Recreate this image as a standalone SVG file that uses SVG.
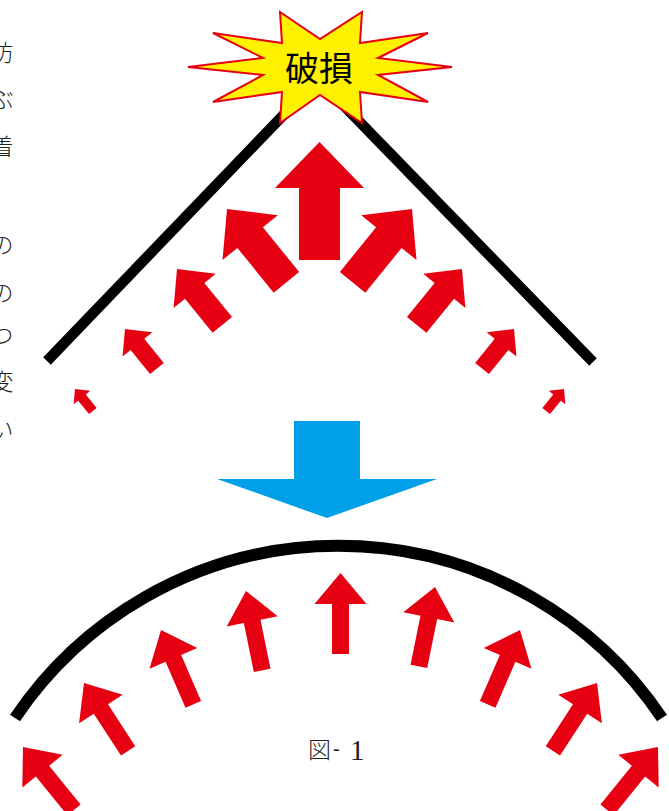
<svg xmlns="http://www.w3.org/2000/svg" xmlns:xlink="http://www.w3.org/1999/xlink" width="669" height="811" viewBox="0 0 669 811">
<style>
.red{fill:#E60012}
.line{fill:none;stroke:#000;stroke-width:10.5;stroke-linejoin:miter}
.arc{fill:none;stroke:#000;stroke-width:12}
.burst{fill:#FFF100;stroke:#E60012;stroke-width:2}
.cjk{font-family:"Noto Sans CJK JP",sans-serif}
.margin{font-family:"Noto Sans CJK JP",sans-serif;font-size:23px;fill:#222;font-weight:300;text-anchor:middle}
</style>
<defs>
<path id="bigArrow" d="M0,0 L44.5,46 L20.5,46 L20.5,118 L-20.5,118 L-20.5,46 L-44.5,46 Z"/>
<path id="thinArrow" d="M0,0 L26,31 L8.5,31 L8.5,81 L-8.5,81 L-8.5,31 L-26,31 Z"/>
</defs>

<g id="margin-text" class="margin">
<text x="2" y="61">防</text>
<text x="2" y="108">ぶ</text>
<text x="2" y="155">着</text>
<text x="2" y="253">の</text>
<text x="2" y="301">の</text>
<text x="2" y="344">つ</text>
<text x="2" y="390">変</text>
<text x="2" y="438">い</text>
</g>

<g id="roof">
<polyline class="line" points="47,361 318,79 593,362"/>
</g>

<g id="burst">
<polygon class="burst" points="280,12 320,39 362,12 360,43 428,33 378,58 452,67 378,75 428,102 360,92 362,123 320,95 280,123 282,92 213,102 263,75 188,67 263,58 213,33 282,43"/>
<text class="cjk" x="319" y="81" font-size="34" text-anchor="middle" fill="#000">破損</text>
</g>

<g id="connectors">
<g id="arrows-top" class="red">
<use xlink:href="#bigArrow" transform="translate(319.5,142)"/>
<use xlink:href="#bigArrow" transform="translate(227,209) rotate(-39) scale(0.8)"/>
<use xlink:href="#bigArrow" transform="translate(412,209) rotate(39) scale(0.8)"/>
<use xlink:href="#bigArrow" transform="translate(177,269) rotate(-39) scale(0.61)"/>
<use xlink:href="#bigArrow" transform="translate(462,269) rotate(39) scale(0.61)"/>
<use xlink:href="#bigArrow" transform="translate(125,329) rotate(-39) scale(0.43)"/>
<use xlink:href="#bigArrow" transform="translate(514,329) rotate(39) scale(0.43)"/>
<use xlink:href="#bigArrow" transform="translate(75,389) rotate(-39) scale(0.24)"/>
<use xlink:href="#bigArrow" transform="translate(564,389) rotate(39) scale(0.24)"/>
</g>

<g id="blue-arrow">
<polygon fill="#00A0E9" points="294,421 360,421 360,479 437,479 327,518 217,479 294,479"/>
</g>

<g id="arrows-bottom" class="red">
<use xlink:href="#thinArrow" transform="translate(23,747) rotate(-39)"/>
<use xlink:href="#thinArrow" transform="translate(84,683) rotate(-33)"/>
<use xlink:href="#thinArrow" transform="translate(161,630) rotate(-23.5)"/>
<use xlink:href="#thinArrow" transform="translate(246,591) rotate(-11.5)"/>
<use xlink:href="#thinArrow" transform="translate(340.5,573)"/>
<use xlink:href="#thinArrow" transform="translate(435,587) rotate(11.5)"/>
<use xlink:href="#thinArrow" transform="translate(520,630) rotate(23.5)"/>
<use xlink:href="#thinArrow" transform="translate(597,683) rotate(33)"/>
<use xlink:href="#thinArrow" transform="translate(658,747) rotate(39)"/>
</g>
</g>

<g id="arc">
<path class="arc" d="M15,718 A390,390 0 0 1 662,718"/>
</g>

<g id="caption">
<text x="308" y="758" fill="#222"><tspan class="cjk" font-size="23" font-weight="300">図</tspan><tspan x="333" y="755" font-family="Liberation Serif" font-size="20">-</tspan><tspan x="350" y="760" font-family="Liberation Serif" font-size="29">1</tspan></text>
</g>
</svg>
